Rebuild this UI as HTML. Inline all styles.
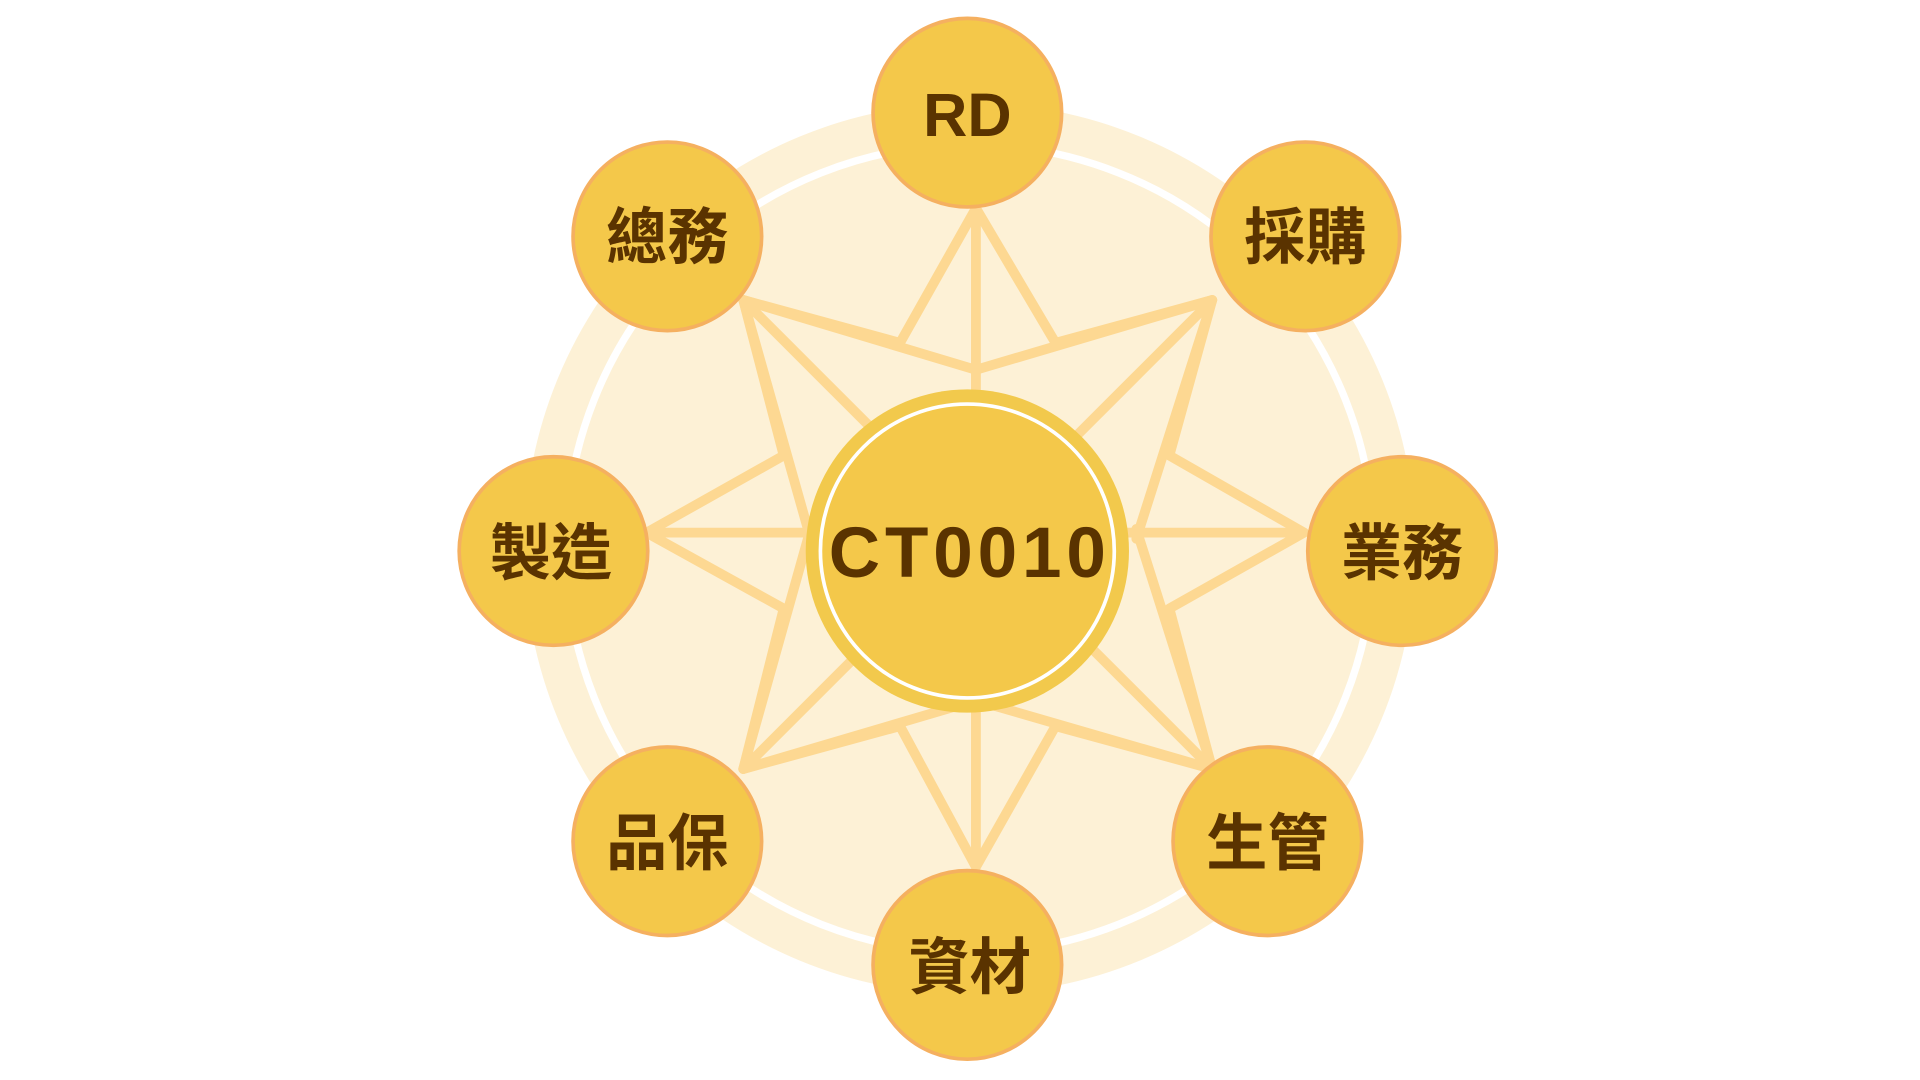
<!DOCTYPE html>
<html><head><meta charset="utf-8"><style>
html,body{margin:0;padding:0;background:#fff;}
svg{display:block;}
text{font-family:"Liberation Sans","Noto Sans CJK TC",sans-serif;font-weight:bold;fill:#5A3300;text-anchor:middle;dominant-baseline:central;}
</style></head><body>
<svg width="1920" height="1080" viewBox="0 0 1568 882" xmlns="http://www.w3.org/2000/svg">
<rect width="1568" height="882" fill="#fff"/>
<circle cx="792" cy="448" r="364" fill="#FDF1D6"/>
<circle cx="792" cy="448" r="330" fill="none" stroke="#fff" stroke-width="6"/>
<g stroke="#FDD892" stroke-width="8" fill="none" stroke-linejoin="round" stroke-linecap="round">
<polygon points="797,170 862,280 990,245 955,372 1065,435 955,497 990,628 862,593 797,708 735,593 607,628 640,497 528,435 640,372 607,245 735,280"/>
<line x1="797" y1="170" x2="797" y2="708"/>
<line x1="528" y1="435" x2="1065" y2="435"/>
<line x1="607" y1="245" x2="990" y2="628"/>
<line x1="990" y1="245" x2="607" y2="628"/>
<line x1="990" y1="245" x2="797" y2="302"/>
<line x1="990" y1="245" x2="928" y2="440"/>
<line x1="607" y1="245" x2="797" y2="302"/>
<line x1="607" y1="245" x2="662" y2="440"/>
<line x1="990" y1="628" x2="797" y2="572"/>
<line x1="990" y1="628" x2="928" y2="432"/>
<line x1="607" y1="628" x2="797" y2="572"/>
<line x1="607" y1="628" x2="662" y2="432"/>
</g>
<circle cx="790" cy="450" r="132" fill="#F2C94C"/>
<circle cx="790" cy="450" r="120" fill="#F4C84A" stroke="#fff" stroke-width="3"/>
<text x="792" y="452" font-size="58" letter-spacing="4">CT0010</text>
<g fill="#F4C84A" stroke="#F5B060" stroke-width="3">
<circle cx="790" cy="92" r="77"/>
<circle cx="1066" cy="193" r="77"/>
<circle cx="1145" cy="450" r="77"/>
<circle cx="1035" cy="687" r="77"/>
<circle cx="790" cy="788" r="77"/>
<circle cx="545" cy="687" r="77"/>
<circle cx="452" cy="450" r="77"/>
<circle cx="545" cy="193" r="77"/>
</g>
<text x="790" y="94" font-size="50">RD</text>
<text x="1066" y="194" font-size="50">採購</text>
<text x="1145" y="452" font-size="50">業務</text>
<text x="1035" y="689" font-size="50">生管</text>
<text x="792" y="790" font-size="50">資材</text>
<text x="545" y="689" font-size="50">品保</text>
<text x="450" y="452" font-size="50">製造</text>
<text x="545" y="194" font-size="50">總務</text>
</svg>
</body></html>
